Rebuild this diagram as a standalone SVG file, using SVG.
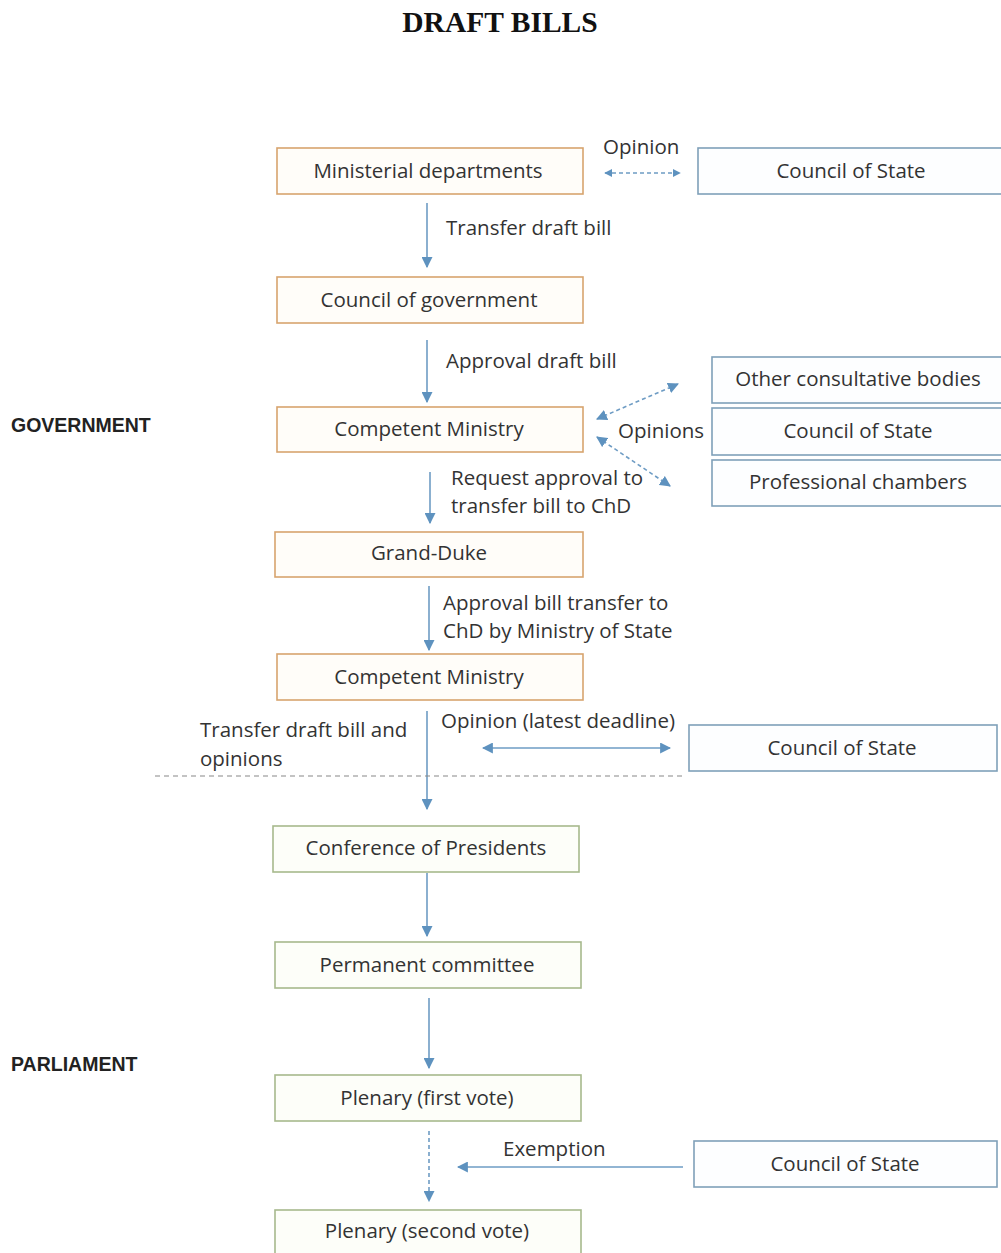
<svg xmlns="http://www.w3.org/2000/svg" width="1001" height="1253" viewBox="0 0 1001 1253">
<defs>
<style>
.t{font-family:"Open Sans","Liberation Sans",Arial,sans-serif;font-size:20.5px;fill:#333}
.c{text-anchor:middle}
.h{font-family:"Liberation Sans",Arial,sans-serif;font-size:19.5px;font-weight:bold;fill:#222}
.o{fill:#fffdf9;stroke:#d7a46e;stroke-width:1.6}
.g{fill:#fdfef9;stroke:#a7b98d;stroke-width:1.6}
.b{fill:#fdfeff;stroke:#7fa0b9;stroke-width:1.6}
.ln{stroke:#6e9cc4;stroke-width:1.6;fill:none}
.dl{stroke:#6e9cc4;stroke-width:1.6;fill:none;stroke-dasharray:4 3}
</style>
<marker id="ah" viewBox="0 0 10 10" refX="9" refY="5" markerWidth="8" markerHeight="8" orient="auto-start-reverse" markerUnits="userSpaceOnUse">
<path d="M0,0 L10,5 L0,10 z" fill="#5e92bf"/>
</marker>
<marker id="ahl" viewBox="0 0 10 10" refX="9" refY="5" markerWidth="11" markerHeight="11" orient="auto-start-reverse" markerUnits="userSpaceOnUse">
<path d="M0,0 L10,5 L0,10 z" fill="#5e92bf"/>
</marker>
</defs>
<rect width="1001" height="1253" fill="#fff"/>
<text x="500" y="32" text-anchor="middle" font-family="Liberation Serif,Times New Roman,serif" font-size="29.5" font-weight="bold" fill="#111">DRAFT BILLS</text>
<text class="h" x="11" y="432">GOVERNMENT</text>
<text class="h" x="11" y="1071">PARLIAMENT</text>

<g id="connectors">
<line class="dl" x1="605" y1="173" x2="680" y2="173" marker-start="url(#ah)" marker-end="url(#ah)"/>
<line class="ln" x1="427" y1="203" x2="427" y2="267" marker-end="url(#ahl)"/>
<line class="ln" x1="427" y1="340" x2="427" y2="402" marker-end="url(#ahl)"/>
<line class="dl" x1="597" y1="419" x2="678" y2="384" marker-start="url(#ahl)" marker-end="url(#ahl)"/>
<line class="dl" x1="597" y1="437" x2="670" y2="486" marker-start="url(#ahl)" marker-end="url(#ahl)"/>
<line class="ln" x1="430" y1="472" x2="430" y2="523" marker-end="url(#ahl)"/>
<line class="ln" x1="429" y1="586" x2="429" y2="650" marker-end="url(#ahl)"/>
<line class="ln" x1="427" y1="711" x2="427" y2="809" marker-end="url(#ahl)"/>
<line class="ln" x1="483" y1="748" x2="670" y2="748" marker-start="url(#ahl)" marker-end="url(#ahl)"/>
<line x1="155" y1="776" x2="686" y2="776" stroke="#888" stroke-width="1.2" stroke-dasharray="5 4"/>
<line class="ln" x1="427" y1="873" x2="427" y2="936" marker-end="url(#ahl)"/>
<line class="ln" x1="429" y1="998" x2="429" y2="1068" marker-end="url(#ahl)"/>
<line class="dl" x1="429" y1="1131" x2="429" y2="1201" marker-end="url(#ahl)"/>
<line class="ln" x1="683" y1="1167" x2="458" y2="1167" marker-end="url(#ahl)"/>
<text class="t" x="603" y="154">Opinion</text>
<text class="t" x="446" y="235">Transfer draft bill</text>
<text class="t" x="446" y="368">Approval draft bill</text>
<text class="t" x="618" y="438">Opinions</text>
<text class="t" x="451" y="485">Request approval to</text>
<text class="t" x="451" y="513">transfer bill to ChD</text>
<text class="t" x="443" y="610">Approval bill transfer to</text>
<text class="t" x="443" y="638">ChD by Ministry of State</text>
<text class="t" x="200" y="737">Transfer draft bill and</text>
<text class="t" x="200" y="766">opinions</text>
<text class="t" x="441" y="728">Opinion (latest deadline)</text>
<text class="t" x="503" y="1156">Exemption</text>
</g>

<g id="n-ministerial"><rect class="o" x="277" y="148" width="306" height="46"/><text class="t c" x="428" y="178">Ministerial departments</text></g>
<g id="n-council-gov"><rect class="o" x="277" y="277" width="306" height="46"/><text class="t c" x="429" y="307">Council of government</text></g>
<g id="n-competent1"><rect class="o" x="277" y="407" width="306" height="45"/><text class="t c" x="429" y="436">Competent  Ministry</text></g>
<g id="n-grandduke"><rect class="o" x="275" y="532" width="308" height="45"/><text class="t c" x="429" y="560">Grand-Duke</text></g>
<g id="n-competent2"><rect class="o" x="277" y="654" width="306" height="46"/><text class="t c" x="429" y="684">Competent  Ministry</text></g>

<g id="n-cos1"><rect class="b" x="698" y="148" width="310" height="46"/><text class="t c" x="851" y="178">Council of State</text></g>
<g id="n-other"><rect class="b" x="712" y="357" width="296" height="46"/><text class="t c" x="858" y="386">Other  consultative bodies</text></g>
<g id="n-cos2"><rect class="b" x="712" y="408" width="296" height="47"/><text class="t c" x="858" y="438">Council of State</text></g>
<g id="n-prof"><rect class="b" x="712" y="460" width="296" height="46"/><text class="t c" x="858" y="489">Professional chambers</text></g>
<g id="n-cos3"><rect class="b" x="689" y="725" width="308" height="46"/><text class="t c" x="842" y="755">Council of State</text></g>
<g id="n-cos4"><rect class="b" x="694" y="1141" width="303" height="46"/><text class="t c" x="845" y="1171">Council of State</text></g>

<g id="n-conference"><rect class="g" x="273" y="826" width="306" height="46"/><text class="t c" x="426" y="855">Conference of Presidents</text></g>
<g id="n-permanent"><rect class="g" x="275" y="942" width="306" height="46"/><text class="t c" x="427" y="972">Permanent committee</text></g>
<g id="n-plenary1"><rect class="g" x="275" y="1075" width="306" height="46"/><text class="t c" x="427" y="1105">Plenary (first vote)</text></g>
<g id="n-plenary2"><rect class="g" x="275" y="1210" width="306" height="50"/><text class="t c" x="427" y="1238">Plenary (second vote)</text></g>
</svg>
